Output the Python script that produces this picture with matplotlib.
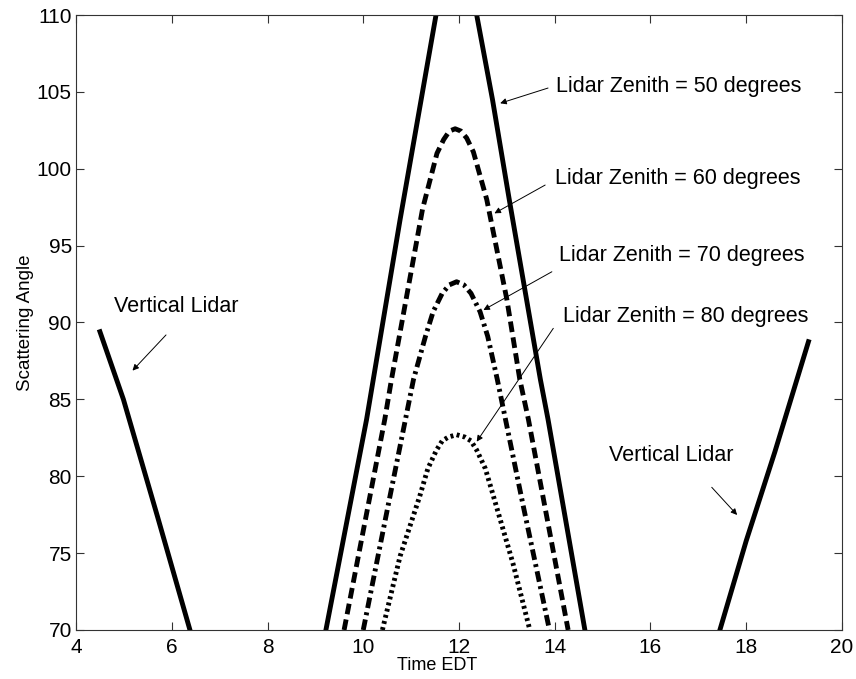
import matplotlib
matplotlib.use('Agg')
import matplotlib.pyplot as plt

plt.rcParams['font.family'] = ['Liberation Sans', 'DejaVu Sans']

# scattering angle vs time
t_50 = [9.22, 10.07, 10.21, 10.77, 11.21, 11.52, 11.95, 12.37, 12.70, 13.05, 13.70, 13.86, 14.63]
ang_50 = [70, 83.7, 86.3, 96.7, 104.5, 110, 118, 110, 104.5, 98.0, 86.3, 83.7, 70]

t_60 = [9.60, 10.45, 10.59, 11.24, 11.54, 11.68, 11.80, 11.92, 12.04, 12.16, 12.30, 12.58, 13.00, 13.27, 13.45, 14.28]
ang_60 = [70, 83.7, 86.3, 97.4, 101.0, 101.9, 102.45, 102.6, 102.45, 102.0, 101.1, 98.0, 91.5, 86.3, 83.7, 70]

t_70 = [10.00, 10.52, 11.05, 11.30, 11.46, 11.65, 11.80, 11.95, 12.10, 12.25, 12.44, 12.60, 12.80, 13.34, 13.89]
ang_70 = [70, 78.1, 86.3, 89.1, 90.7, 91.9, 92.45, 92.65, 92.45, 91.9, 90.7, 89.1, 86.3, 78.1, 70]

t_80 = [10.40, 10.77, 11.18, 11.35, 11.53, 11.65, 11.78, 11.95, 12.12, 12.25, 12.37, 12.55, 12.72, 13.13, 13.48]
ang_80 = [70, 74.8, 78.7, 80.5, 81.7, 82.3, 82.55, 82.7, 82.55, 82.3, 81.7, 80.5, 78.7, 74.3, 70]

t_vert_am = [4.50, 4.99, 5.70, 6.38]
ang_vert_am = [89.4, 85.0, 77.4, 70]
t_vert_pm = [17.45, 18.00, 18.60, 19.30]
ang_vert_pm = [70, 75.8, 81.6, 88.75]

# label text, text position, arrow tail, arrow head
labels = ['Lidar Zenith = 50 degrees', 'Lidar Zenith = 60 degrees',
          'Lidar Zenith = 70 degrees', 'Lidar Zenith = 80 degrees',
          'Vertical Lidar', 'Vertical Lidar']
label_xy = [(14.03, 105.34), (14.01, 99.38), (14.08, 94.33), (14.18, 90.38),
            (4.79, 91.03), (15.14, 81.38)]
arrow_from = [(13.86, 105.25), (13.80, 98.94), (13.94, 93.30), (13.97, 89.62),
              (5.88, 89.19), (17.28, 79.28)]
arrow_to = [(12.86, 104.26), (12.74, 97.10), (12.51, 90.81), (12.37, 82.25),
            (5.18, 86.87), (17.81, 77.48)]

fig = plt.figure(figsize=(8.56, 6.79), dpi=100)
ax = fig.add_axes([0.0888, 0.0722, 0.8948, 0.9057])

lw = 3.5
ax.plot(t_50, ang_50, color='k', lw=lw, linestyle='-')
ax.plot(t_60, ang_60, color='k', lw=lw, linestyle=(0, (2.2, 1.1)))
ax.plot(t_70, ang_70, color='k', lw=lw, linestyle=(0, (2.2, 0.9, 0.6, 0.9)))
ax.plot(t_80, ang_80, color='k', lw=lw, linestyle=(0, (0.6, 0.7)))
ax.plot(t_vert_am, ang_vert_am, color='k', lw=lw)
ax.plot(t_vert_pm, ang_vert_pm, color='k', lw=lw)

for txt, xy, a0, a1 in zip(labels, label_xy, arrow_from, arrow_to):
    ax.text(xy[0], xy[1], txt, ha='left', va='center', fontsize=15.5)
    ax.annotate('', xy=a1, xytext=a0,
                arrowprops=dict(arrowstyle='-|>', color='k', lw=0.7,
                                mutation_scale=9, shrinkA=0, shrinkB=0))

ax.set_xlim(4, 20)
ax.set_ylim(70, 110)
ax.set_xticks(range(4, 21, 2))
ax.set_yticks(range(70, 111, 5))
ax.tick_params(direction='in', length=6, width=0.8, top=True, right=True,
               labelsize=15, color='#333333')
ax.tick_params(axis='x', pad=6)
ax.tick_params(axis='y', pad=3)
for s in ax.spines.values():
    s.set_linewidth(0.8)
    s.set_color('#333333')

ax.set_xlabel('Time EDT', fontsize=13)
ax.xaxis.set_label_coords(0.471, -0.044)
ax.set_ylabel('Scattering Angle', fontsize=13.5, labelpad=2)

fig.savefig('out.png', dpi=100)
